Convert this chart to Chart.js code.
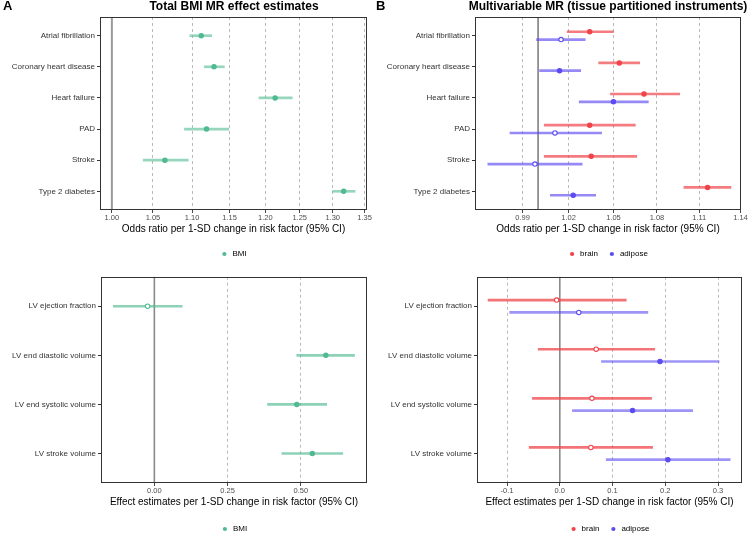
<!DOCTYPE html>
<html>
<head>
<meta charset="utf-8">
<script src="https://cdn.jsdelivr.net/npm/chart.js@4.4.1/dist/chart.umd.min.js"></script>
<style>
  body { margin: 0; background: #fff; overflow: hidden; font-family: "Liberation Sans", Arial, sans-serif; }
  #wrap { position: relative; width: 748px; height: 535px; overflow: hidden; }
  canvas { position: absolute; }
  .tag { position: absolute; font-weight: bold; font-size: 13px; color: #000; }
  .ttl { position: absolute; top: -1px; width: 400px; text-align: center; font-weight: bold; font-size: 12px; color: #000; white-space: nowrap; }
</style>
</head>
<body>
<div id="wrap">
  <canvas id="cA" style="left:0;top:0" width="374" height="270"></canvas>
  <canvas id="cB" style="left:374px;top:0" width="374" height="270"></canvas>
  <canvas id="cC" style="left:0;top:270px" width="374" height="275"></canvas>
  <canvas id="cD" style="left:374px;top:270px" width="374" height="275"></canvas>
  <div class="tag" style="left:3px;top:-2px">A</div>
  <div class="tag" style="left:376px;top:-2px">B</div>
  <div class="ttl" style="left:34px">Total BMI MR effect estimates</div>
  <div class="ttl" style="left:408px">Multivariable MR (tissue partitioned instruments)</div>
</div>
<script>
// Categories
const outcomes = ['Atrial fibrillation', 'Coronary heart disease', 'Heart failure', 'PAD', 'Stroke', 'Type 2 diabetes'];
const lvTraits = ['LV ejection fraction', 'LV end diastolic volume', 'LV end systolic volume', 'LV stroke volume'];

// A: total BMI, odds ratios
const bmiOR = [1.112, 1.129, 1.214, 1.119, 1.065, 1.317];
const bmiORlo = [1.097, 1.116, 1.191, 1.090, 1.038, 1.300];
const bmiORhi = [1.126, 1.143, 1.239, 1.149, 1.095, 1.335];

// B: multivariable MR, odds ratios
const brainOR = [1.034, 1.054, 1.071, 1.034, 1.035, 1.116];
const brainORlo = [1.019, 1.040, 1.048, 1.004, 1.004, 1.099];
const brainORhi = [1.050, 1.068, 1.096, 1.065, 1.066, 1.133];
const adiposeOR = [1.015, 1.014, 1.050, 1.011, 0.998, 1.023];
const adiposeORlo = [0.999, 1.001, 1.027, 0.982, 0.968, 1.008];
const adiposeORhi = [1.031, 1.028, 1.074, 1.042, 1.029, 1.038];

// bottom left: BMI on LV traits
const bmiLV = [-0.023, 0.585, 0.486, 0.539];
const bmiLVlo = [-0.140, 0.486, 0.386, 0.435];
const bmiLVhi = [0.095, 0.683, 0.588, 0.643];

// bottom right: brain / adipose on LV traits
const brainLV = [-0.006, 0.069, 0.061, 0.059];
const brainLVlo = [-0.136, -0.041, -0.052, -0.058];
const brainLVhi = [0.126, 0.180, 0.174, 0.176];
const adiposeLV = [0.036, 0.190, 0.138, 0.205];
const adiposeLVlo = [-0.095, 0.079, 0.024, 0.088];
const adiposeLVhi = [0.167, 0.302, 0.252, 0.323];

// tick labels
const ticksA = [1.00, 1.05, 1.10, 1.15, 1.20, 1.25, 1.30, 1.35];
const ticksB = [0.99, 1.02, 1.05, 1.08, 1.11, 1.14];
const ticksC = [0.00, 0.25, 0.50];
const ticksD = [-0.1, 0.0, 0.1, 0.2, 0.3];

const TEAL = [80, 186, 145];
const RED = [240, 68, 74];
const BLUE = [92, 76, 240];
const rgba = (c, a) => `rgba(${c[0]},${c[1]},${c[2]},${a})`;

const FONT = '"Liberation Sans", Arial, sans-serif';

// panel frame + vertical reference line
const frame = {
  id: 'frame',
  beforeDatasetsDraw(chart, args, o) {
    const { ctx, chartArea: a } = chart;
    const x = chart.scales.x.getPixelForValue(o.ref);
    ctx.save();
    ctx.strokeStyle = o.refColor;
    ctx.lineWidth = o.refWidth;
    ctx.beginPath();
    ctx.moveTo(x, a.top);
    ctx.lineTo(x, a.bottom);
    ctx.stroke();
    ctx.restore();
  },
  afterDatasetsDraw(chart) {
    const { ctx, chartArea: a } = chart;
    ctx.save();
    ctx.strokeStyle = '#333';
    ctx.lineWidth = 1;
    ctx.strokeRect(Math.round(a.left) + 0.5, Math.round(a.top) + 0.5,
      Math.round(a.right - a.left) - 1, Math.round(a.bottom - a.top) - 1);
    ctx.restore();
  }
};

function forest(id, cfg) {
  const cats = cfg.cats;
  const datasets = [];
  cfg.series.forEach(s => {
    const pos = cats.map((c, i) => i + 1 + s.offset);
    const sig = cats.map((c, i) => s.lo[i] > cfg.ref || s.hi[i] < cfg.ref);
    datasets.push({
      type: 'scatter',
      label: s.label,
      data: cats.map((c, i) => ({ x: s.est[i], y: pos[i] })),
      pointRadius: 2.2,
      pointBorderWidth: 1.1,
      pointBorderColor: rgba(s.color, 1),
      pointBackgroundColor: sig.map(v => v ? rgba(s.color, 1) : '#fff'),
      order: 0
    });
    datasets.push({
      type: 'bar',
      label: s.label + ' CI',
      indexAxis: 'y',
      data: cats.map((c, i) => ({ y: pos[i], x: [s.lo[i], s.hi[i]] })),
      backgroundColor: rgba(s.color, s.ciAlpha),
      barThickness: 2,
      grouped: false,
      order: 1
    });
  });

  new Chart(document.getElementById(id), {
    type: 'bar',
    data: { datasets },
    plugins: [frame],
    options: {
      responsive: false,
      animation: false,
      indexAxis: 'y',
      layout: { padding: { top: cfg.padTop, right: cfg.padRight, bottom: 2, left: 0 } },
      plugins: {
        frame: { ref: cfg.ref, refColor: cfg.refColor, refWidth: cfg.refWidth },
        tooltip: { enabled: false },
        legend: {
          position: 'bottom',
          fullSize: false,
          labels: {
            usePointStyle: true,
            boxWidth: 8,
            boxHeight: 3,
            padding: 10,
            color: '#222',
            font: { family: FONT, size: 8 },
            generateLabels: () => cfg.series.map(s => ({
              text: s.label, fillStyle: rgba(s.color, 1), strokeStyle: rgba(s.color, 1),
              lineWidth: 0, pointStyle: 'circle', hidden: false
            }))
          }
        }
      },
      scales: {
        x: {
          type: cfg.log ? 'logarithmic' : 'linear',
          min: cfg.xmin,
          max: cfg.xmax,
          afterBuildTicks: ax => { ax.ticks = cfg.ticks.map(v => ({ value: v })); },
          afterFit: ax => { ax.height = cfg.xHeight; },
          ticks: {
            padding: 0,
            color: '#4d4d4d',
            font: { family: FONT, size: 7.5 },
            maxRotation: 0,
            autoSkip: false,
            callback: (v, i) => cfg.ticks[i].toFixed(cfg.dec)
          },
          grid: {
            color: c => (c.tick && Math.abs(c.tick.value - cfg.ref) < 1e-9) ? 'rgba(0,0,0,0)' : '#b3b3b3',
            lineWidth: 0.9,
            tickColor: '#333',
            tickLength: 3
          },
          border: { display: false, dash: [3, 3] },
          title: {
            display: true,
            text: cfg.xTitle,
            color: '#000',
            font: { family: FONT, size: 10 },
            padding: { top: 0, bottom: cfg.titlePad }
          }
        },
        y: {
          type: 'linear',
          reverse: true,
          offset: false,
          min: 0.4,
          max: cats.length + 0.6,
          afterBuildTicks: ax => { ax.ticks = cats.map((c, i) => ({ value: i + 1 })); },
          afterFit: ax => { ax.width = cfg.yWidth; },
          ticks: {
            padding: 2,
            color: '#333',
            font: { family: FONT, size: 8 },
            autoSkip: false,
            callback: (v, i) => cats[i]
          },
          grid: { offset: false, drawOnChartArea: false, tickColor: '#333', tickLength: 3 },
          border: { display: false }
        }
      }
    }
  });
}

const orTitle = 'Odds ratio per 1-SD change in risk factor (95% CI)';
const effTitle = 'Effect estimates per 1-SD change in risk factor (95% CI)';

forest('cA', {
  cats: outcomes, log: true,
  xmin: 0.986, xmax: 1.354, ticks: ticksA, dec: 2, ref: 1,
  refColor: '#9a9a9a', refWidth: 2, xTitle: orTitle,
  yWidth: 100, padTop: 17, padRight: 7, xHeight: 30, titlePad: 5,
  series: [{ label: 'BMI', color: TEAL, ciAlpha: 0.6, offset: 0, est: bmiOR, lo: bmiORlo, hi: bmiORhi }]
});

forest('cB', {
  cats: outcomes, log: true,
  xmin: 0.9605, xmax: 1.1404, ticks: ticksB, dec: 2, ref: 1,
  refColor: '#333', refWidth: 1, xTitle: orTitle,
  yWidth: 101, padTop: 17, padRight: 7, xHeight: 30, titlePad: 5,
  series: [
    { label: 'brain', color: RED, ciAlpha: 0.7, offset: -0.125, est: brainOR, lo: brainORlo, hi: brainORhi },
    { label: 'adipose', color: BLUE, ciAlpha: 0.65, offset: 0.125, est: adiposeOR, lo: adiposeORlo, hi: adiposeORhi }
  ]
});

forest('cC', {
  cats: lvTraits, log: false,
  xmin: -0.182, xmax: 0.7255, ticks: ticksC, dec: 2, ref: 0,
  refColor: '#8a8a8a', refWidth: 1.6, xTitle: effTitle,
  yWidth: 101, padTop: 6, padRight: 7, xHeight: 32, titlePad: 7,
  series: [{ label: 'BMI', color: TEAL, ciAlpha: 0.65, offset: 0, est: bmiLV, lo: bmiLVlo, hi: bmiLVhi }]
});

forest('cD', {
  cats: lvTraits, log: false,
  xmin: -0.157, xmax: 0.3455, ticks: ticksD, dec: 1, ref: 0,
  refColor: '#8a8a8a', refWidth: 1.6, xTitle: effTitle,
  yWidth: 103, padTop: 6, padRight: 6, xHeight: 32, titlePad: 7,
  series: [
    { label: 'brain', color: RED, ciAlpha: 0.75, offset: -0.125, est: brainLV, lo: brainLVlo, hi: brainLVhi },
    { label: 'adipose', color: BLUE, ciAlpha: 0.6, offset: 0.125, est: adiposeLV, lo: adiposeLVlo, hi: adiposeLVhi }
  ]
});
</script>
</body>
</html>
